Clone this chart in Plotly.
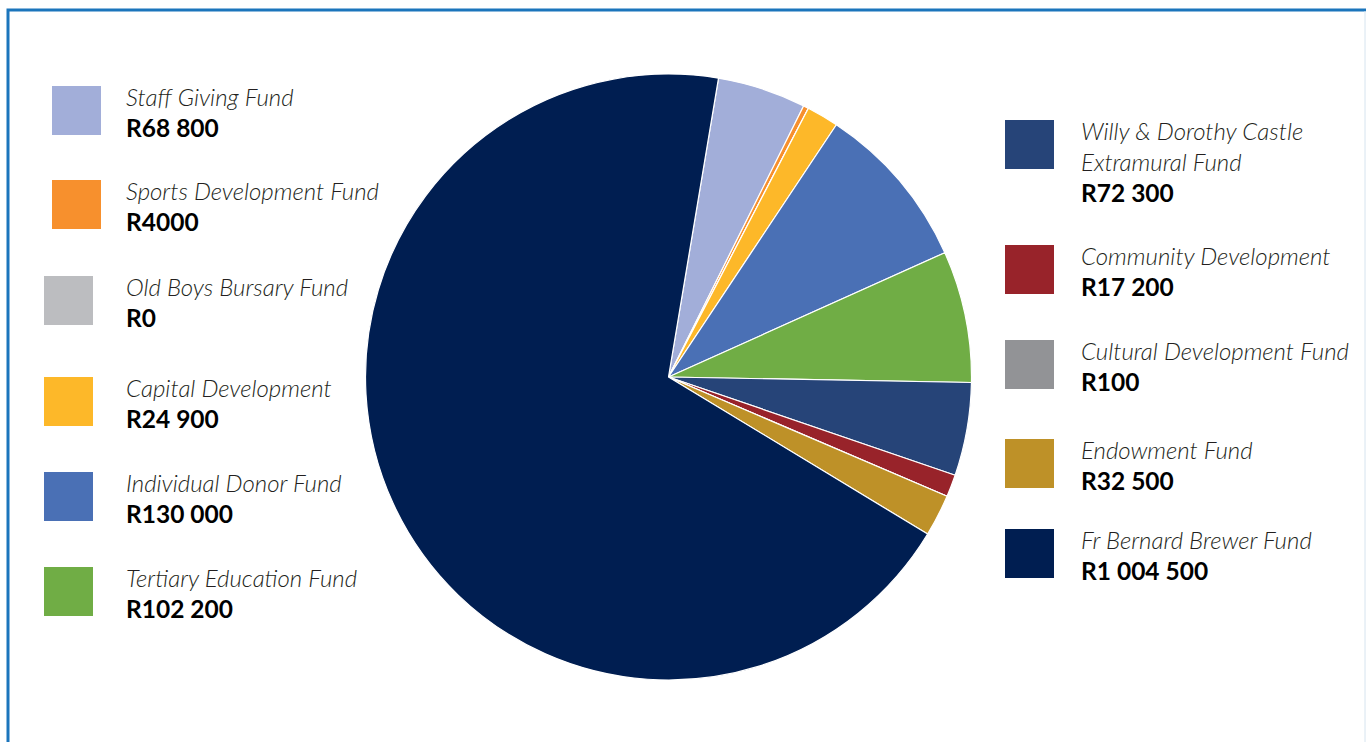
import plotly.graph_objects as go

# ---- data ----
funds = [
    "Staff Giving Fund",
    "Sports Development Fund",
    "Old Boys Bursary Fund",
    "Capital Development",
    "Individual Donor Fund",
    "Tertiary Education Fund",
    "Willy & Dorothy Castle|Extramural Fund",
    "Community Development",
    "Cultural Development Fund",
    "Endowment Fund",
    "Fr Bernard Brewer Fund",
]
amounts = [68800, 4000, 0, 24900, 130000, 102200, 72300, 17200, 100, 32500, 1004500]
amount_labels = ["R68 800", "R4000", "R0", "R24 900", "R130 000", "R102 200",
                 "R72 300", "R17 200", "R100", "R32 500", "R1 004 500"]
colors = ["#A2AED9", "#F7902D", "#BCBDC0", "#FDB829", "#4A70B5", "#70AD45",
          "#264478", "#98232A", "#929396", "#BE9128", "#001E51"]

W, H = 1366, 742

def px(x):
    return x / W

def py(y):
    return 1 - y / H

# pie geometry (pixels)
cx, cy, r = 668.5, 377, 303

fig = go.Figure(go.Pie(
    labels=[f.replace("|", " ") for f in funds],
    values=amounts,
    marker=dict(colors=colors, line=dict(color="white", width=1.2)),
    sort=False,
    direction="clockwise",
    rotation=9.5,
    textinfo="none",
    hoverinfo="label+value",
    domain=dict(x=[px(cx - r), px(cx + r)], y=[py(cy + r), py(cy - r)]),
))

shapes = []
annotations = []

# legend layout
left_tops = [86, 180, 276, 377, 472, 567]
left_sq_x = [52, 52, 44, 44, 44, 44]
right_tops = [120, 245, 340, 439, 529]
SQ = 49
NAME_SIZE = 24
VAL_SIZE = 24.5
LINE = 31

def add_item(i, sq_x, top, text_x):
    shapes.append(dict(type="rect", xref="paper", yref="paper",
                       x0=px(sq_x), x1=px(sq_x + SQ), y0=py(top + SQ), y1=py(top),
                       fillcolor=colors[i], line=dict(width=0)))
    lines = funds[i].split("|")
    base = top + 18
    for k, ln in enumerate(lines):
        b = base + k * LINE
        annotations.append(dict(
            x=px(text_x), y=py(b - 0.33 * NAME_SIZE), xref="paper", yref="paper",
            xanchor="left", yanchor="middle", showarrow=False, text=ln,
            font=dict(family="Lato", size=NAME_SIZE, color="#231F20",
                      style="italic", weight=300)))
    b = base + len(lines) * LINE + 1
    annotations.append(dict(
        x=px(text_x), y=py(b - 0.33 * VAL_SIZE), xref="paper", yref="paper",
        xanchor="left", yanchor="middle", showarrow=False, text=amount_labels[i],
        font=dict(family="Lato", size=VAL_SIZE, color="#000000", weight=700)))

for j in range(6):
    add_item(j, left_sq_x[j], left_tops[j], 124)
for j in range(5):
    add_item(6 + j, 1005, right_tops[j], 1079)

# frame
shapes.append(dict(type="rect", xref="paper", yref="paper",
                   x0=px(8), x1=px(W + 20), y0=py(H + 20), y1=py(10),
                   line=dict(color="#1B75BC", width=3), fillcolor="rgba(0,0,0,0)"))
shapes.append(dict(type="line", xref="paper", yref="paper",
                   x0=px(1365), x1=px(1365), y0=py(H + 20), y1=py(11),
                   line=dict(color="#D6E4EF", width=1)))

fig.update_layout(
    width=W, height=H,
    margin=dict(l=0, r=0, t=0, b=0),
    paper_bgcolor="white", plot_bgcolor="white",
    showlegend=False,
    shapes=shapes,
    annotations=annotations,
)

fig.write_html("out.html", config={"displayModeBar": False},
               post_script="document.body.style.margin='0';document.body.style.overflow='hidden';")
